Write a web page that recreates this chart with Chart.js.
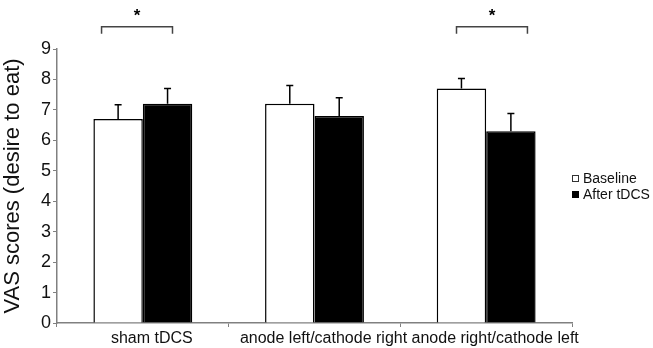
<!DOCTYPE html>
<html>
<head>
<meta charset="utf-8">
<script src="https://cdn.jsdelivr.net/npm/chart.js@4"></script>
<style>
    html, body { margin: 0; padding: 0; background: #fff; }
    #wrap { position: relative; width: 653px; height: 348px; }
    #legend { position: absolute; left: 572px; top: 170px; font: 14px "Liberation Sans", Arial, sans-serif; color: #111; line-height: 16px; }
    #legend div { white-space: nowrap; }
    #legend span { display: inline-block; width: 7px; height: 7px; margin-right: 4px; vertical-align: 1px; box-sizing: border-box; }
</style>
</head>
<body>
<div id="wrap">
    <canvas id="chart" width="653" height="348"></canvas>
    <div id="legend">
        <div><span style="border:1px solid #333;background:#fff"></span>Baseline</div>
        <div><span style="background:#000"></span>After tDCS</div>
    </div>
</div>
<script>
const categories = ["sham tDCS", "anode left/cathode right", "anode right/cathode left"];
const baselineValues = [6.7, 7.2, 7.7];
const baselineErrors = [0.47, 0.6, 0.33];
const afterValues = [7.2, 6.8, 6.3];
const afterErrors = [0.5, 0.6, 0.58];
const significant = [true, false, true];

const axisGrey = "#808080";
const fontFamily = "'Liberation Sans', Arial, sans-serif";

const errorBarPlugin = {
    id: "errorBars",
    afterDatasetsDraw(chart) {
        const ctx = chart.ctx;
        const yScale = chart.scales.y;
        ctx.save();
        ctx.strokeStyle = "#000";
        ctx.lineWidth = 1.5;
        chart.data.datasets.forEach((dataset, i) => {
            const meta = chart.getDatasetMeta(i);
            meta.data.forEach((bar, j) => {
                const top = yScale.getPixelForValue(dataset.data[j] + dataset.errors[j]);
                ctx.beginPath();
                ctx.moveTo(bar.x, bar.y);
                ctx.lineTo(bar.x, top);
                ctx.moveTo(bar.x - 3.5, top);
                ctx.lineTo(bar.x + 3.5, top);
                ctx.stroke();
            });
        });
        ctx.restore();
    }
};

const bracketPlugin = {
    id: "brackets",
    afterDraw(chart) {
        const ctx = chart.ctx;
        const white = chart.getDatasetMeta(0).data;
        const black = chart.getDatasetMeta(1).data;
        const yScale = chart.scales.y;
        const lineY = yScale.getPixelForValue(9.73);
        const tipY = yScale.getPixelForValue(9.5);
        ctx.save();
        ctx.strokeStyle = "#444";
        ctx.lineWidth = 1.5;
        ctx.fillStyle = "#000";
        ctx.font = "bold 17px " + fontFamily;
        ctx.textAlign = "center";
        ctx.textBaseline = "middle";
        significant.forEach((sig, j) => {
            if (!sig) return;
            const halfW = (black[j].x - white[j].x) / 2;
            const left = j === 0 ? white[j].x - halfW * 0.67 : white[j].x - halfW * 0.2;
            const right = j === 0 ? black[j].x + halfW * 0.2 : black[j].x + halfW * 0.67;
            ctx.beginPath();
            ctx.moveTo(left, tipY);
            ctx.lineTo(left, lineY);
            ctx.lineTo(right, lineY);
            ctx.lineTo(right, tipY);
            ctx.stroke();
            ctx.fillText("*", (left + right) / 2, lineY - 10);
        });
        ctx.restore();
    }
};

new Chart(document.getElementById("chart"), {
    type: "bar",
    data: {
        labels: categories,
        datasets: [
            {
                label: "Baseline",
                data: baselineValues,
                errors: baselineErrors,
                backgroundColor: "#fff",
                borderColor: "#000",
                borderWidth: 1.5
            },
            {
                label: "After tDCS",
                data: afterValues,
                errors: afterErrors,
                backgroundColor: "#000",
                borderColor: "#000",
                borderWidth: 1.5
            }
        ]
    },
    options: {
        responsive: false,
        animation: false,
        layout: { padding: { left: 0, top: 49, right: 81, bottom: 0 } },
        datasets: { bar: { categoryPercentage: 0.576, barPercentage: 1.0 } },
        plugins: { legend: { display: false }, tooltip: { enabled: false } },
        scales: {
            x: {
                grid: { drawOnChartArea: false, drawTicks: true, tickLength: 4, color: axisGrey, offset: true },
                border: { color: axisGrey, width: 1.5 },
                ticks: { color: "#111", font: { family: fontFamily, size: 16 }, padding: 2, labelOffset: 9, maxRotation: 0, autoSkip: false },
                afterFit(scale) { scale.height = 25; }
            },
            y: {
                min: 0,
                max: 9,
                grid: { drawOnChartArea: false, drawTicks: true, tickLength: 4, color: axisGrey },
                border: { color: axisGrey, width: 1.5 },
                ticks: { stepSize: 1, color: "#111", font: { family: fontFamily, size: 18 }, padding: 2 },
                title: { display: true, text: "VAS scores (desire to eat)", color: "#111", font: { family: fontFamily, size: 22 }, padding: { top: 0, bottom: 0 } },
                afterFit(scale) { scale.width = 57; }
            }
        }
    },
    plugins: [errorBarPlugin, bracketPlugin]
});
</script>
</body>
</html>
